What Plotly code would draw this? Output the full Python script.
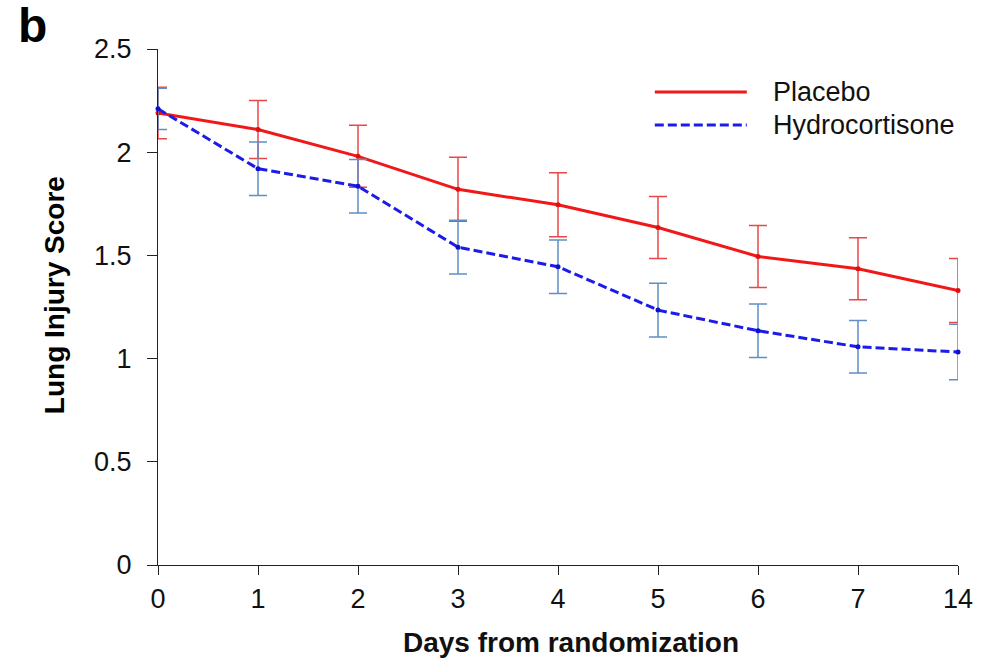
import plotly.graph_objects as go

days = ["0", "1", "2", "3", "4", "5", "6", "7", "14"]
placebo = [2.19, 2.11, 1.98, 1.82, 1.745, 1.635, 1.495, 1.435, 1.33]
placebo_err = [0.125, 0.14, 0.15, 0.155, 0.155, 0.15, 0.15, 0.15, 0.155]
hydro = [2.21, 1.92, 1.835, 1.54, 1.445, 1.235, 1.135, 1.057, 1.032]
hydro_err = [0.1, 0.13, 0.13, 0.13, 0.13, 0.13, 0.13, 0.127, 0.135]

xpos = list(range(len(days)))
dash_style = "9px,4px"

fig = go.Figure()
fig.add_trace(go.Scatter(
    x=xpos, y=placebo, mode="lines+markers", name="Placebo",
    line=dict(color="#f01818", width=3),
    marker=dict(color="#e01010", size=5),
    error_y=dict(type="data", array=placebo_err, visible=True,
                 color="#e8484a", thickness=1.5, width=9),
    showlegend=False, cliponaxis=False,
))
fig.add_trace(go.Scatter(
    x=xpos, y=hydro, mode="lines+markers", name="Hydrocortisone",
    line=dict(color="#1c1ce8", width=3, dash=dash_style),
    marker=dict(color="#1010d0", size=5),
    error_y=dict(type="data", array=hydro_err, visible=True,
                 color="#5f8fc4", thickness=1.5, width=9),
    showlegend=False, cliponaxis=False,
))

font_main = "Liberation Sans, Arial, sans-serif"
txt = "#111"

# manual legend
fig.add_shape(type="line", xref="paper", yref="paper",
              x0=0.621, x1=0.736, y0=0.9167, y1=0.9167,
              line=dict(color="#f01818", width=3))
fig.add_shape(type="line", xref="paper", yref="paper",
              x0=0.621, x1=0.736, y0=0.8527, y1=0.8527,
              line=dict(color="#1c1ce8", width=3, dash=dash_style))
fig.add_annotation(text="Placebo", xref="paper", yref="paper",
                   x=0.766, y=0.9167, xanchor="left", yanchor="middle",
                   showarrow=False, font=dict(size=27, color=txt, family=font_main))
fig.add_annotation(text="Hydrocortisone", xref="paper", yref="paper",
                   x=0.766, y=0.8527, xanchor="left", yanchor="middle",
                   showarrow=False, font=dict(size=27, color=txt, family=font_main))

# panel label
fig.add_annotation(text="<b>b</b>", xref="paper", yref="paper",
                   x=-0.1575, y=1.0465, xanchor="center", yanchor="middle",
                   showarrow=False, font=dict(size=48, color="#000", family=font_main))

# axis titles
fig.add_annotation(text="<b>Lung Injury Score</b>", xref="paper", yref="paper",
                   x=-0.13, y=0.523, xanchor="center", yanchor="middle", textangle=-90,
                   showarrow=False, font=dict(size=28, color="#000", family=font_main))
fig.add_annotation(text="<b>Days from randomization</b>", xref="paper", yref="paper",
                   x=0.516, y=-0.151, xanchor="center", yanchor="middle",
                   showarrow=False, font=dict(size=28, color=txt, family=font_main))

fig.update_layout(
    width=988, height=661,
    margin=dict(l=158, r=30, t=49, b=96),
    plot_bgcolor="white", paper_bgcolor="white",
    font=dict(family=font_main, size=28, color=txt),
    xaxis=dict(range=[0, 8], tickmode="array", tickvals=xpos, ticktext=days,
               showgrid=False, zeroline=False, showline=True, linecolor="#222",
               linewidth=1.2, ticks="outside", ticklen=9, tickcolor="#222",
               tickfont=dict(size=27, color=txt)),
    yaxis=dict(range=[0, 2.5], tickmode="array", tickvals=[0, 0.5, 1, 1.5, 2, 2.5],
               ticktext=["0", "0.5", "1", "1.5", "2", "2.5"],
               showgrid=False, zeroline=False, showline=True, linecolor="#222",
               linewidth=1.2, ticks="outside", ticklen=10, tickcolor="#222",
               ticklabelstandoff=10,
               tickfont=dict(size=27, color=txt)),
)

fig.write_html("out.html")
